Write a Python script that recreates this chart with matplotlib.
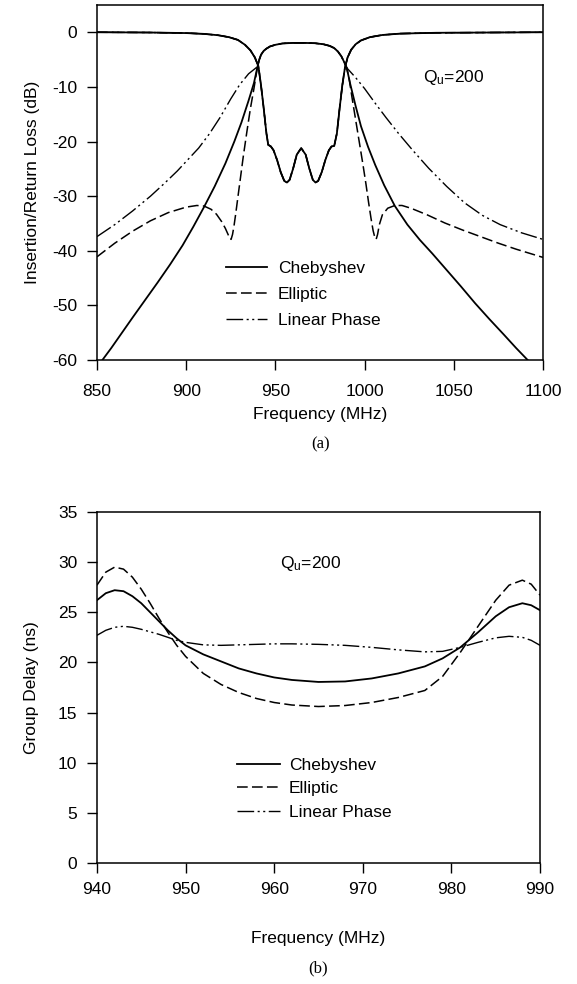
import numpy as np
import matplotlib
matplotlib.use("Agg")
import matplotlib.pyplot as plt

plt.rcParams["font.family"] = ["Liberation Sans", "DejaVu Sans"]
plt.rcParams["font.size"] = 12.5
plt.rcParams["axes.unicode_minus"] = False

# ---- (a) insertion / return loss, Qu = 200 ----
# passband insertion loss (same for all three designs)
pass_f = [940, 941, 942, 943.5, 945, 947, 950, 954, 960, 966, 972, 977, 980.5, 983, 985, 987, 988.5, 990]
pass_il = [-6.3, -5.0, -4.1, -3.4, -3.0, -2.6, -2.3, -2.05, -1.95, -1.95, -2.0, -2.2, -2.5, -2.9, -3.5, -4.4, -5.4, -6.5]

# stopband skirts
cheb_lo_f = [853, 858, 864, 870, 877, 884, 891, 898, 904, 910, 916, 922, 927, 931, 935, 938]
cheb_lo = [-60, -57.8, -55.0, -52.2, -49.0, -45.8, -42.5, -39.0, -35.6, -32.0, -28.2, -24.0, -20.0, -16.5, -12.5, -9.3]
cheb_hi_f = [992, 995, 998, 1002, 1006, 1011, 1017, 1024, 1031, 1038, 1046, 1054, 1062, 1070, 1078, 1085, 1091.5]
cheb_hi = [-9.5, -13.5, -17.2, -21.0, -24.3, -28.0, -31.8, -35.2, -38.0, -40.5, -43.5, -46.5, -49.6, -52.5, -55.3, -57.8, -60.0]

ell_lo_f = [850, 860, 870, 880, 890, 900, 906, 910, 914, 917, 920, 922, 923.5, 924.5, 925.2, 926, 926.8,
            927.8, 929, 930.5, 932, 934, 936, 938]
ell_lo = [-41.1, -38.6, -36.4, -34.5, -33.0, -32.0, -31.7, -31.8, -32.4, -33.3, -34.7, -35.9, -37.0, -37.8,
          -37.9, -37.0, -35.5, -33.2, -30.2, -26.5, -22.8, -18.3, -14.0, -10.3]
ell_hi_f = [991.5, 993, 995, 997, 999, 1000.8, 1002.2, 1003.6, 1004.8, 1005.8, 1006.5, 1007.3, 1008.3, 1010,
            1013, 1017, 1021, 1026, 1035, 1045, 1055, 1065, 1075, 1085, 1100]
ell_hi = [-8.8, -12.0, -16.0, -20.0, -24.0, -27.8, -31.0, -34.0, -36.3, -37.6, -37.9, -37.0, -35.2, -33.4,
          -32.2, -31.7, -31.7, -32.2, -33.4, -34.9, -36.2, -37.4, -38.6, -39.7, -41.2]

lin_lo_f = [850, 860, 870, 880, 888, 895, 901, 907, 913, 919, 925, 930, 935]
lin_lo = [-37.4, -35.2, -32.7, -30.0, -27.6, -25.4, -23.3, -21.2, -18.6, -15.6, -12.2, -9.6, -7.6]
lin_hi_f = [995, 1000, 1006, 1012, 1019, 1027, 1036, 1046, 1056, 1066, 1076, 1088, 1100]
lin_hi = [-8.3, -10.3, -13.0, -15.6, -18.5, -21.6, -24.9, -28.2, -31.2, -33.5, -35.2, -36.7, -37.9]

# return loss (practically identical for the three designs)
rl_f = [850, 880, 900, 910, 918, 924, 929, 933, 936, 938.5, 940.5, 942, 943.5, 945, 946, 947.5, 949, 951,
        953, 955, 956.5, 958, 960, 962, 964.5, 967, 969, 971, 972.5, 974, 976, 978, 980, 981.5, 983,
        984.5, 986, 987.5, 989, 990.5, 992.5, 995, 998, 1003, 1010, 1020, 1040, 1070, 1100]
rl_db = [0.0, -0.05, -0.15, -0.3, -0.55, -0.9, -1.4, -2.3, -3.3, -4.6, -6.2, -9.8, -14.0, -18.5, -20.6,
         -20.9, -21.6, -23.4, -25.6, -27.2, -27.5, -27.0, -24.9, -22.4, -21.2, -22.4, -24.9, -27.0, -27.5,
         -27.2, -25.6, -23.4, -21.6, -20.9, -20.8, -18.5, -14.0, -9.8, -6.5, -4.6, -3.2, -2.2, -1.5, -0.9,
         -0.5, -0.25, -0.1, -0.05, 0.0]

# ---- (b) group delay ----
gd_f = [940, 941, 942, 943, 944, 945, 946, 947, 948, 949, 950, 952, 954, 956, 958, 960, 962, 965, 968,
        971, 974, 977, 979, 981, 983, 985, 986.5, 988, 989, 990]
gd_cheb = [26.2, 26.9, 27.2, 27.1, 26.6, 25.9, 25.0, 24.1, 23.2, 22.4, 21.7, 20.8, 20.1, 19.4, 18.9, 18.5,
           18.25, 18.05, 18.1, 18.4, 18.9, 19.6, 20.4, 21.5, 23.0, 24.6, 25.5, 25.9, 25.7, 25.2]
gd_ell = [27.7, 29.0, 29.5, 29.3, 28.5, 27.3, 25.9, 24.4, 23.0, 21.7, 20.6, 18.9, 17.8, 17.0, 16.4, 16.0,
          15.75, 15.6, 15.7, 16.0, 16.5, 17.2, 18.6, 21.0, 23.6, 26.2, 27.7, 28.2, 27.8, 26.7]
gd_lin = [22.7, 23.2, 23.5, 23.6, 23.5, 23.3, 23.05, 22.8, 22.5, 22.2, 22.0, 21.75, 21.7, 21.75, 21.8,
          21.85, 21.85, 21.8, 21.7, 21.5, 21.25, 21.05, 21.1, 21.5, 22.0, 22.45, 22.6, 22.5, 22.2, 21.7]

names = ["Chebyshev", "Elliptic", "Linear Phase"]
styles = [
    dict(color="black", lw=1.3, ls="-"),
    dict(color="black", lw=1.1, dashes=(7, 2.8)),
    dict(color="black", lw=1.0, dashes=(12, 2.5, 1.5, 2.5, 1.5, 2.5)),
]

fig = plt.figure(figsize=(5.77, 9.84), dpi=100)
ax1 = fig.add_axes([0.168, 0.634, 0.773, 0.361])
ax2 = fig.add_axes([0.168, 0.123, 0.768, 0.3567])

skirts = [
    (cheb_lo_f, cheb_lo, cheb_hi_f, cheb_hi),
    (ell_lo_f, ell_lo, ell_hi_f, ell_hi),
    (lin_lo_f, lin_lo, lin_hi_f, lin_hi),
]
for name, st, (lo_f, lo, hi_f, hi) in zip(names, styles, skirts):
    f = list(lo_f) + pass_f + list(hi_f)
    il = list(lo) + pass_il + list(hi)
    ax1.plot(f, il, label=name, **st)
for st in styles:
    ax1.plot(rl_f, rl_db, **st)

ax1.set_xlim(850, 1100)
ax1.set_ylim(-60, 5)
ax1.set_xticks(np.arange(850, 1101, 50))
ax1.set_yticks(np.arange(-60, 1, 10))
ax1.set_xlabel("Frequency (MHz)", labelpad=6)
ax1.set_ylabel("Insertion/Return Loss (dB)", labelpad=9)
ax1.text(1032.6, -8.2, r"$\mathregular{Q_u}$=200", ha="left", va="center")
ax1.legend(loc="upper left", bbox_to_anchor=(0.27, 0.305), frameon=False, handlelength=2.36,
           handletextpad=0.63, labelspacing=0.64, borderpad=0)

for name, st, gd in zip(names, styles, [gd_cheb, gd_ell, gd_lin]):
    ax2.plot(gd_f, gd, label=name, **st)
ax2.set_xlim(940, 990)
ax2.set_ylim(0, 35)
ax2.set_xticks(np.arange(940, 991, 10))
ax2.set_yticks(np.arange(0, 36, 5))
ax2.set_xlabel("Frequency (MHz)", labelpad=24)
ax2.set_ylabel("Group Delay (ns)", labelpad=14)
ax2.text(960.7, 29.9, r"$\mathregular{Q_u}$=200", ha="left", va="center")
ax2.legend(loc="upper left", bbox_to_anchor=(0.296, 0.324), frameon=False, handlelength=2.48,
           handletextpad=0.52, labelspacing=0.47, borderpad=0)

for ax in (ax1, ax2):
    ax.tick_params(direction="out", length=7, width=1.0, pad=7)
    for sp in ax.spines.values():
        sp.set_linewidth(1.1)
ax1.tick_params(axis="x", pad=10)

fig.text(0.555, 1 - 444 / 984, "(a)", family="Liberation Serif", fontsize=12, ha="center", va="center")
fig.text(0.551, 1 - 968 / 984, "(b)", family="Liberation Serif", fontsize=12, ha="center", va="center")

fig.savefig("out.png", dpi=100)
